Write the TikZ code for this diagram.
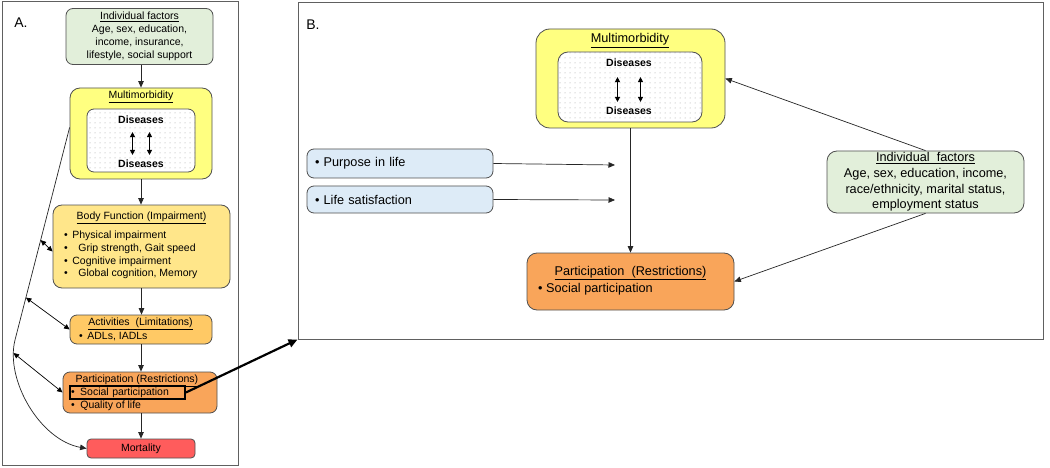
\documentclass[tikz,border=0pt]{standalone}
\usepackage{fontspec}
\setmainfont{Liberation Sans}
\usetikzlibrary{arrows.meta,patterns.meta,calc}
\definecolor{bord}{HTML}{505050}
\definecolor{framec}{HTML}{606060}
\definecolor{gfill}{HTML}{E2EFDA}
\definecolor{yfill}{HTML}{FFFF80}
\definecolor{bffill}{HTML}{FFE68A}
\definecolor{actfill}{HTML}{FFC965}
\definecolor{partfill}{HTML}{F9A55A}
\definecolor{mortfill}{HTML}{FF5C5C}
\definecolor{bfill}{HTML}{DDEBF7}
\begin{document}
\begin{tikzpicture}[x=1pt,y=-1pt,
  box/.style={draw=bord, line width=0.8pt, rounded corners=7pt, inner sep=0pt},
  frm/.style={draw=framec, line width=1pt, inner sep=0pt},
  dotted box/.style={box, preaction={fill=white}, pattern={Dots[radius=0.5pt,distance=5pt]}, pattern color=gray!75},
  fa/.style={font=\fontsize{10.5}{13}\selectfont, inner sep=0pt},
  fb/.style={font=\fontsize{12.7}{15.6}\selectfont, inner sep=0pt},
  dis/.style={font=\fontsize{10.5}{13}\selectfont\bfseries, inner sep=0pt},
  arr/.style={-{Triangle[length=6.5pt,width=5.5pt]}, line width=0.7pt, draw=black!85},
  dblA/.style={{Triangle[length=5.5pt,width=5pt]}-{Triangle[length=5.5pt,width=5pt]}, line width=0.7pt},
  dblI/.style={{Triangle[length=5pt,width=5pt]}-{Triangle[length=5pt,width=5pt]}, line width=1pt},
  lab/.style={font=\fontsize{14}{16}\selectfont, inner sep=0pt}
]
\useasboundingbox (0,0) rectangle (1050,468);
\fill[white] (0,0) rectangle (1050,468);

% frames
\node[frm, minimum width=236pt, minimum height=463pt] (frameA) at (120,233.5) {};
\node[frm, minimum width=745pt, minimum height=336pt] (frameB) at (670.5,171) {};
\node[lab] (labA) at (21,23) {A.};
\node[lab] (labB) at (313,25) {B.};

% ---------- Panel A ----------
\node[box, fill=gfill, minimum width=147pt, minimum height=56pt, fa, align=center] (indA) at (139.5,36.5)
  {\underline{Individual factors}\\Age,\ sex, education,\\income, insurance,\\lifestyle, social support};

\node[box, fill=yfill, rounded corners=10pt, minimum width=142pt, minimum height=91pt] (mmA) at (141,133.5) {};
\node[fa] (mmAt) at (141,97) {\underline{Multimorbidity}};
\node[dotted box, minimum width=108pt, minimum height=63pt] (inA) at (141,140.5) {};
\node[dis] (dA1) at (141,120) {Diseases};
\node[dis] (dA2) at (141,164) {Diseases};
\draw[dblI] ($(dA1.south)+(-8.5,8)$) -- ($(dA2.north)+(-8.5,-5)$);
\draw[dblI] ($(dA1.south)+(8.5,8)$) -- ($(dA2.north)+(8.5,-5)$);

\node[box, fill=bffill, rounded corners=9pt, minimum width=177pt, minimum height=83pt] (bfA) at (141.5,246.5) {};
\node[fa] (bfAt) at (141.5,218) {\underline{Body Function (Impairment)}};
\node[fa, anchor=west, align=left, font=\fontsize{10.5}{12.7}\selectfont] (bfAl) at (64,255)
  {\textbullet\hspace{4.5pt}Physical impairment\\
   \textbullet\hspace{10.5pt}Grip strength, Gait speed\\
   \textbullet\hspace{4.5pt}Cognitive impairment\\
   \textbullet\hspace{10.5pt}Global cognition, Memory};

\node[box, fill=actfill, minimum width=142pt, minimum height=29pt] (actA) at (141,329.5) {};
\node[fa] (actAt) at (140.5,324) {\underline{Activities\ \ (Limitations)}};
\node[fa, anchor=west] (actAl) at (79,336.5) {\textbullet\hspace{4.5pt}ADLs, IADLs};

\node[box, fill=partfill, minimum width=154pt, minimum height=41pt] (partA) at (140,392.5) {};
\node[fa] (partAt) at (137,380.5) {\underline{Participation (Restrictions)}};
\node[draw=black, line width=1.8pt, minimum width=115pt, minimum height=12.5pt, inner ysep=0pt, inner xsep=1pt, text width=113pt, align=left, font=\fontsize{10.5}{13}\selectfont] (sp) at (127.5,392.5)
  {\textbullet\hspace{5.5pt}Social participation};
\node[fa, anchor=west] (qol) at (71,406) {\textbullet\hspace{5.5pt}Quality of life};

\node[box, fill=mortfill, rounded corners=4pt, minimum width=108pt, minimum height=19pt, fa] (mortA) at (141,448.5) {Mortality};

% vertical arrows A
\draw[arr] (mmA.north |- indA.south) -- (mmA.north);
\draw[arr] (mmA.south) -- (mmA.south |- bfA.north);
\draw[arr] (bfA.south) -- (bfA.south |- actA.north);
\draw[arr] (actA.south) -- (actA.south |- partA.north);
\draw[arr] (mortA.north |- partA.south) -- (mortA.north);

% left curve
\coordinate (cTop) at ([yshift=6pt]mmA.west);
\coordinate (cBend) at (15,340);
\coordinate (c3) at (13.5,353);
\draw[arr] (cTop) -- (cBend) .. controls (5,380) and (40,440) .. (mortA.west);
\draw[dblA] ($(cTop)!0.53!(cBend)$) -- ([yshift=-5pt]bfA.west);
\draw[dblA] ($(cTop)!0.80!(cBend)$) -- (actA.west);
\draw[dblA] (c3) -- (partA.west);

% thick link to panel B
\draw[line width=2.2pt, -{Triangle[length=9pt,width=8pt]}] (sp.east) -- (frameB.south west);

% ---------- Panel B ----------
\node[box, fill=yfill, rounded corners=14pt, minimum width=189pt, minimum height=99pt] (mmB) at (630.5,78.5) {};
\node[fb] (mmBt) at (630,40.5) {\underline{Multimorbidity}};
\node[dotted box, rounded corners=10pt, minimum width=144pt, minimum height=70pt] (inB) at (630,87) {};
\node[dis] (dB1) at (629,63) {Diseases};
\node[dis] (dB2) at (629,111) {Diseases};
\draw[dblI] ($(dB1.south)+(-11.5,10)$) -- ($(dB2.north)+(-11.5,-5)$);
\draw[dblI] ($(dB1.south)+(11.5,10)$) -- ($(dB2.north)+(11.5,-5)$);

\node[box, fill=bfill, minimum width=186pt, minimum height=29pt, inner xsep=8pt, text width=170pt, align=left, fb] (purp) at (400,163.5)
  {\textbullet\ Purpose in life};
\node[box, fill=bfill, minimum width=186pt, minimum height=27pt, inner xsep=8pt, text width=170pt, align=left, fb] (life) at (400,199.5)
  {\textbullet\ Life satisfaction};
\coordinate (pEnd) at (615,165);
\coordinate (lEnd) at (615,200);
\draw[arr] (purp.east) -- (pEnd);
\draw[arr] (life.east) -- (lEnd);

\node[box, fill=partfill, rounded corners=10pt, minimum width=207pt, minimum height=57pt] (partB) at (630.5,281.5) {};
\node[fb] (partBt) at (630.5,273) {\underline{Participation\ \ (Restrictions)}};
\node[fb, anchor=west] (partBl) at (538,289.5) {\textbullet\ Social participation};

\node[box, fill=gfill, rounded corners=10pt, minimum width=197pt, minimum height=62pt, fb, align=center] (indB) at (925.5,182)
  {\underline{Individual\ \ factors}\\Age, sex, education, income,\\race/ethnicity, marital status,\\employment status};

\draw[arr] (mmB.south) -- (mmB.south |- partB.north);
\draw[arr] (indB.north) -- (mmB.east);
\draw[arr] (indB.south) -- (partB.east);
\end{tikzpicture}
\end{document}
